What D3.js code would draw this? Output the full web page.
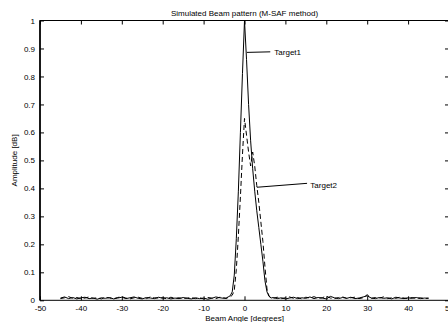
<!DOCTYPE html>
<html>
<head>
<meta charset="utf-8">
<script src="https://cdn.jsdelivr.net/npm/d3@7"></script>
<style>
  body { margin: 0; background: #fff; }
  svg { display: block; font-family: "Liberation Sans", Arial, sans-serif; }
</style>
</head>
<body>
<div id="frame"></div>
<script>
const width = 448
const height = 322
const margin = { top: 20.5, right: -1, bottom: 21.7, left: 40 }

// beam angles [degrees]
const angles = [
  -45, -44, -43, -42, -41, -40, -39, -38, -37, -36, -35, -34, -33, -32, -31, -30, -29, -28, -27, -26,
  -25, -24, -23, -22, -21, -20, -19, -18, -17, -16, -15, -14, -13, -12, -11, -10, -9, -8, -7, -6, -5,
  -4.5, -4, -3.5, -3, -2.5, -2, -1.5, -1, -0.5, 0, 0.5, 1, 1.5, 2, 2.5, 3, 3.5, 4, 4.5, 5, 5.5, 6, 6.5,
  7, 8, 9, 10, 11, 12, 13, 14, 15, 16, 17, 18, 19, 20, 21, 22, 23, 24, 25, 26,
  27, 28, 29, 30, 31, 32, 33, 34, 35, 36, 37, 38, 39, 40, 41, 42, 43, 44, 45
]

const target1 = [
  0.008, 0.012, 0.006, 0.010, 0.005, 0.009, 0.011, 0.006, 0.008, 0.004, 0.009, 0.007, 0.010, 0.005, 0.008, 0.011, 0.006, 0.009, 0.012, 0.007,
  0.005, 0.010, 0.008, 0.006, 0.011, 0.007, 0.009, 0.005, 0.008, 0.006, 0.010, 0.007, 0.005, 0.009, 0.006, 0.008, 0.004, 0.007, 0.012, 0.009, 0.007,
  0.008, 0.012, 0.016, 0.03, 0.09, 0.22, 0.39, 0.60, 0.81, 1.0, 0.86, 0.70, 0.57, 0.47, 0.39, 0.32, 0.26, 0.20, 0.14, 0.07, 0.03, 0.014, 0.008,
  0.010, 0.006, 0.009, 0.005, 0.008, 0.011, 0.006, 0.009, 0.007, 0.012, 0.006, 0.010, 0.008, 0.005, 0.014, 0.009, 0.006, 0.010, 0.007, 0.011,
  0.006, 0.008, 0.012, 0.016, 0.008, 0.006, 0.010, 0.007, 0.009, 0.005, 0.011, 0.008, 0.006, 0.009, 0.007, 0.010, 0.006, 0.008, 0.007
]

const target2 = [
  0.006, 0.009, 0.013, 0.007, 0.010, 0.006, 0.008, 0.012, 0.007, 0.009, 0.005, 0.011, 0.008, 0.006, 0.010, 0.013, 0.008, 0.005, 0.009, 0.011,
  0.007, 0.006, 0.012, 0.009, 0.008, 0.010, 0.005, 0.011, 0.007, 0.009, 0.006, 0.008, 0.010, 0.006, 0.009, 0.005, 0.010, 0.008, 0.006, 0.011, 0.009,
  0.006, 0.010, 0.012, 0.018, 0.035, 0.11, 0.23, 0.37, 0.52, 0.65, 0.59, 0.53, 0.48, 0.53, 0.48, 0.41, 0.35, 0.28, 0.21, 0.12, 0.04, 0.015, 0.009,
  0.007, 0.011, 0.006, 0.009, 0.012, 0.007, 0.010, 0.005, 0.011, 0.008, 0.013, 0.007, 0.009, 0.015, 0.008, 0.006, 0.010, 0.012, 0.007, 0.009,
  0.011, 0.006, 0.009, 0.020, 0.007, 0.010, 0.008, 0.012, 0.006, 0.009, 0.007, 0.011, 0.008, 0.006, 0.010, 0.007, 0.009, 0.006, 0.008
]

const xTicks = [-50, -40, -30, -20, -10, 0, 10, 20, 30, 40, 50]
const yTicks = [0, 0.1, 0.2, 0.3, 0.4, 0.5, 0.6, 0.7, 0.8, 0.9, 1]

// annotation anchors [angle, amplitude]
const labels = [
  { name: 'Target1', from: [0.59, 0.886], to: [6.3, 0.888], text: [7.3, 0.888] },
  { name: 'Target2', from: [3.03, 0.404], to: [15.3, 0.418], text: [16.1, 0.412] }
]

const x = d3.scaleLinear().domain([-50, 50]).range([margin.left, width - margin.right])
const y = d3.scaleLinear().domain([0, 1]).range([height - margin.bottom, margin.top])

const svg = d3.select('#frame')
  .append('svg')
  .attr('width', width)
  .attr('height', height)

const tickLen = 4

// box
svg.append('rect')
  .attr('x', x(-50))
  .attr('y', y(1))
  .attr('width', x(50) - x(-50))
  .attr('height', y(0) - y(1))
  .attr('fill', 'none')
  .attr('stroke', '#000')
  .attr('stroke-width', 1)

svg.append('line')
  .attr('x1', x(-50)).attr('x2', x(-50))
  .attr('y1', y(0)).attr('y2', y(1))
  .attr('stroke', '#000')
  .attr('stroke-width', 1.6)

// plain hyphen for negatives, like the original
const locale = d3.formatLocale({ decimal: '.', thousands: ',', grouping: [3], currency: ['', ''], minus: '-' })
const fmt = locale.format('~g')

const bottomAxis = d3.axisBottom(x).tickValues(xTicks).tickSize(-tickLen).tickPadding(5).tickFormat(fmt)
const topAxis = d3.axisTop(x).tickValues(xTicks).tickSize(-tickLen).tickFormat('')
const leftAxis = d3.axisLeft(y).tickValues(yTicks).tickSize(-tickLen).tickPadding(5).tickFormat(fmt)
const rightAxis = d3.axisRight(y).tickValues(yTicks).tickSize(-tickLen).tickFormat('')

function styleAxis(g) {
  g.select('.domain').remove()
  g.selectAll('line').attr('stroke', '#000')
  g.selectAll('text').attr('fill', '#000').attr('font-size', 8)
  g.attr('font-family', null)
}

svg.append('g').attr('transform', `translate(0,${y(0)})`).call(bottomAxis).call(styleAxis)
svg.append('g').attr('transform', `translate(0,${y(1)})`).call(topAxis).call(styleAxis)
svg.append('g').attr('transform', `translate(${x(-50)},0)`).call(leftAxis).call(styleAxis)
svg.append('g').attr('transform', `translate(${x(50)},0)`).call(rightAxis).call(styleAxis)

// curves
const line = d3.line()
  .x(d => x(d[0]))
  .y(d => y(d[1]))

svg.append('path')
  .datum(angles.map((a, i) => [a, target1[i]]))
  .attr('d', line)
  .attr('fill', 'none')
  .attr('stroke', '#000')
  .attr('stroke-width', 1)

svg.append('path')
  .datum(angles.map((a, i) => [a, target2[i]]))
  .attr('d', line)
  .attr('fill', 'none')
  .attr('stroke', '#000')
  .attr('stroke-width', 1)
  .attr('stroke-dasharray', '5,3')

// annotations
labels.forEach(l => {
  svg.append('line')
    .attr('x1', x(l.from[0])).attr('y1', y(l.from[1]))
    .attr('x2', x(l.to[0])).attr('y2', y(l.to[1]))
    .attr('stroke', '#000')
    .attr('stroke-width', 1)
  svg.append('text')
    .attr('x', x(l.text[0]))
    .attr('y', y(l.text[1]))
    .attr('dy', '0.35em')
    .attr('font-size', 8)
    .text(l.name)
})

// title and axis labels
svg.append('text')
  .attr('x', x(0))
  .attr('y', 16)
  .attr('text-anchor', 'middle')
  .attr('font-size', 8)
  .text('Simulated Beam pattern (M-SAF method)')

svg.append('text')
  .attr('x', x(0))
  .attr('y', 321)
  .attr('text-anchor', 'middle')
  .attr('font-size', 8)
  .text('Beam Angle [degrees]')

svg.append('text')
  .attr('transform', `translate(17,${y(0.5)}) rotate(-90)`)
  .attr('text-anchor', 'middle')
  .attr('font-size', 8)
  .text('Amplitude [dB]')
</script>
</body>
</html>
